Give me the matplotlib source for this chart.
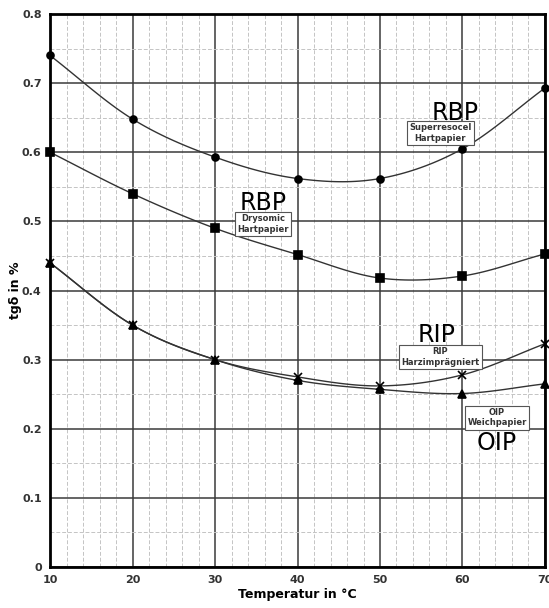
import numpy as np
import matplotlib.pyplot as plt
from matplotlib.ticker import MultipleLocator, FuncFormatter

# Temperatur in °C
temp = [10, 20, 30, 40, 50, 60, 70]

# tg delta in %
rbp_superresocel = [0.740, 0.648, 0.593, 0.562, 0.562, 0.605, 0.693]
rbp_drysomic = [0.600, 0.540, 0.490, 0.452, 0.418, 0.421, 0.453]
rip_harz = [0.440, 0.350, 0.300, 0.275, 0.262, 0.278, 0.323]
oip_weich = [0.440, 0.350, 0.300, 0.270, 0.257, 0.251, 0.265]

y_ticks = [0, 0.1, 0.2, 0.3, 0.4, 0.5, 0.6, 0.7, 0.8]
x_ticks = [10, 20, 30, 40, 50, 60, 70]


def smooth_curve(x, y, n=20):
    """Catmull-Rom Kurve durch die Messpunkte"""
    x = np.asarray(x, float)
    y = np.asarray(y, float)
    px = np.concatenate([[2 * x[0] - x[1]], x, [2 * x[-1] - x[-2]]])
    py = np.concatenate([[2 * y[0] - y[1]], y, [2 * y[-1] - y[-2]]])
    xs, ys = [], []
    t = np.linspace(0, 1, n, endpoint=False)
    for i in range(1, len(px) - 2):
        for p, out in ((px, xs), (py, ys)):
            p0, p1, p2, p3 = p[i - 1], p[i], p[i + 1], p[i + 2]
            out.extend(0.5 * (2 * p1 + (-p0 + p2) * t
                              + (2 * p0 - 5 * p1 + 4 * p2 - p3) * t ** 2
                              + (-p0 + 3 * p1 - 3 * p2 + p3) * t ** 3))
    xs.append(x[-1])
    ys.append(y[-1])
    return xs, ys


fig = plt.figure(figsize=(5.49, 6.08), dpi=100)
ax = fig.add_axes([0.0911, 0.0674, 0.9016, 0.9096])

series = [
    (rbp_superresocel, 'o', 5),
    (rbp_drysomic, 's', 6),
    (rip_harz, 'x', 6),
    (oip_weich, '^', 6),
]
for vals, mk, ms in series:
    cx, cy = smooth_curve(temp, vals)
    ax.plot(cx, cy, color='#333333', lw=1.0, zorder=3, clip_on=False)
    ax.plot(temp, vals, linestyle='none', marker=mk, ms=ms, color='black',
            mew=1.2, zorder=4, clip_on=False)

ax.set_xlim(10, 70)
ax.set_ylim(0, 0.8)
ax.set_xticks(x_ticks)
ax.set_yticks(y_ticks)
ax.xaxis.set_minor_locator(MultipleLocator(2))
ax.yaxis.set_minor_locator(MultipleLocator(0.05))
ax.yaxis.set_major_formatter(FuncFormatter(lambda v, p: '0' if v == 0 else '%.1f' % v))

ax.grid(which='major', color='#3a3a3a', lw=1.1)
ax.grid(which='minor', color='#c4c4c4', lw=0.7, ls=(0, (4, 2)))
ax.set_axisbelow(True)
for s in ax.spines.values():
    s.set_linewidth(2)
ax.tick_params(which='both', length=0, pad=6, labelsize=8, labelcolor='#333333')
for lab in ax.get_xticklabels() + ax.get_yticklabels():
    lab.set_fontweight('bold')

ax.set_xlabel('Temperatur in °C', fontsize=9, fontweight='bold', labelpad=2)
ax.set_ylabel('tgδ in %', fontsize=9, fontweight='bold', labelpad=0)

box = dict(boxstyle='square,pad=0.3', fc='white', ec='#555555', lw=0.8)
ax.text(59.1, 0.657, 'RBP', fontsize=17, ha='center', va='center')
ax.text(57.3, 0.628, 'Superresocel\nHartpapier', fontsize=6, fontweight='bold',
        ha='center', va='center', bbox=box, color='#333333', zorder=5)
ax.text(35.8, 0.527, 'RBP', fontsize=17, ha='center', va='center')
ax.text(35.8, 0.496, 'Drysomic\nHartpapier', fontsize=6, fontweight='bold',
        ha='center', va='center', bbox=box, color='#333333', zorder=5)
ax.text(56.9, 0.336, 'RIP', fontsize=17, ha='center', va='center')
ax.text(57.3, 0.304, 'RIP\nHarzimprägniert', fontsize=6, fontweight='bold',
        ha='center', va='center', bbox=box, color='#333333', zorder=5)
ax.text(64.2, 0.216, 'OIP\nWeichpapier', fontsize=6, fontweight='bold',
        ha='center', va='center', bbox=box, color='#333333', zorder=5)
ax.text(64.2, 0.179, 'OIP', fontsize=17, ha='center', va='center')

fig.savefig('out.png', dpi=100)
